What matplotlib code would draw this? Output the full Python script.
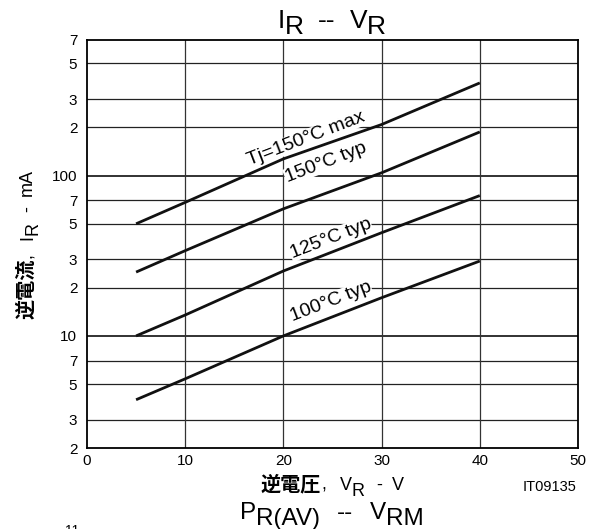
import numpy as np
import matplotlib
matplotlib.use("Agg")
import matplotlib.pyplot as plt
import matplotlib.transforms as mtransforms
from matplotlib.ticker import FixedLocator, FixedFormatter, NullLocator

plt.rcParams['font.family'] = ['Liberation Sans', 'Noto Sans CJK JP', 'DejaVu Sans']

# data (V_R in V, I_R in mA)
vr = [5, 10, 20, 30, 40]
ir_150max = [50, 68, 127, 208, 378]
ir_150typ = [25, 34, 62, 104, 187]
ir_125typ = [10, 13.5, 25.4, 44, 75]
ir_100typ = [4, 5.4, 10, 17.3, 29.3]

curve_labels = ["Tj=150°C max", "150°C typ", "125°C typ", "100°C typ"]
label_x = [22.3, 24.3, 24.8, 24.8]
label_y = [170, 120, 40.5, 16.3]
label_rot = [21, 21, 21, 21]

y_ticks = [2, 3, 5, 7, 10, 20, 30, 50, 70, 100, 200, 300, 500, 700]
y_ticklabels = ['2', '3', '5', '7', '10', '2', '3', '5', '7', '100', '2', '3', '5', '7']
x_ticks = [0, 10, 20, 30, 40, 50]


def rich(fig, x, y, parts, rotation=0):
    # parts: (text, size, weight, dy in pt, gap in pt before)
    r = fig.canvas.get_renderer()
    items = []
    total = 0
    for s, size, weight, dy, gap in parts:
        t = fig.text(0, 0, s, fontsize=size, fontweight=weight)
        w = t.get_window_extent(r).width * 72 / fig.dpi
        items.append((t, w, dy, gap))
        total += w + gap
    a = np.radians(rotation)
    ux, uy = np.cos(a), np.sin(a)
    pos = -total / 2
    for t, w, dy, gap in items:
        pos += gap
        ox = pos * ux - dy * uy
        oy = pos * uy + dy * ux
        t.set_transform(fig.transFigure + mtransforms.ScaledTranslation(ox / 72, oy / 72, fig.dpi_scale_trans))
        t.set_position((x, y))
        t.set_rotation(rotation)
        t.set_rotation_mode('anchor')
        t.set_ha('left')
        t.set_va('baseline')
        pos += w


fig = plt.figure(figsize=(5.97, 5.29), dpi=100)
ax = fig.add_axes([0.1457, 0.1531, 0.8225, 0.7713])

ax.set_yscale('log')
ax.set_xlim(0, 50)
ax.set_ylim(2, 700)

for yv in y_ticks[1:-1]:
    lw = 1.3 if yv in (10, 100) else 0.9
    ax.axhline(yv, color='#222222', lw=lw, zorder=1)
for xv in x_ticks[1:-1]:
    ax.axvline(xv, color='#333333', lw=0.9, zorder=1)

for ys in [ir_150max, ir_150typ, ir_125typ, ir_100typ]:
    ax.plot(vr, ys, color='#111111', lw=2.0, zorder=5, solid_capstyle='butt')

for s, lx, ly, rot in zip(curve_labels, label_x, label_y, label_rot):
    ax.text(lx, ly, s, fontsize=14, rotation=rot, rotation_mode='anchor',
            ha='center', va='center', zorder=4,
            bbox=dict(fc='white', ec='none', pad=0.3))

ax.yaxis.set_major_locator(FixedLocator(y_ticks))
ax.yaxis.set_major_formatter(FixedFormatter(y_ticklabels))
ax.yaxis.set_minor_locator(NullLocator())
ax.set_xticks(x_ticks)
ax.tick_params(length=0, labelsize=11)
ax.tick_params(axis='y', pad=7)
ax.tick_params(axis='x', pad=4)
for sp in ax.spines.values():
    sp.set_linewidth(1.3)

# titles and axis labels
rich(fig, 332 / 597, 1 - 28 / 529, [("I", 19, 'normal', 0, 0), ("R", 19, 'normal', -4, 0),
                                    ("--", 19, 'normal', 0, 10), ("V", 19, 'normal', 0, 10),
                                    ("R", 19, 'normal', -4, 0)])
rich(fig, 332 / 597, 1 - 490 / 529, [("逆電圧", 14.5, 'bold', 0, 0), (",", 13, 'normal', 0, 0),
                                     ("V", 13, 'normal', 0, 10), ("R", 13, 'normal', -4, 0),
                                     ("-", 13, 'normal', 0, 8), ("V", 13, 'normal', 0, 7)])
rich(fig, 332 / 597, 1 - 519 / 529, [("P", 17.5, 'normal', 0, 0), ("R(AV)", 17.5, 'normal', -4, 0),
                                     ("--", 17.5, 'normal', 0, 12), ("V", 17.5, 'normal', 0, 12),
                                     ("RM", 17.5, 'normal', -4, 0)])
rich(fig, 32 / 597, 1 - 244 / 529, [("逆電流", 14.5, 'bold', 0, 0), (",", 13, 'normal', 0, 0),
                                    ("I", 13, 'normal', 0, 10), ("R", 13, 'normal', -4, 0),
                                    ("-", 13, 'normal', 0, 7), ("mA", 13, 'normal', 0, 7)],
     rotation=90)
fig.text(550 / 597, 1 - 487 / 529, "IT09135", fontsize=10.5, ha='center', va='center')
fig.text(72 / 597, 1 - 524 / 529, "11", fontsize=10, ha='center', va='top')

fig.savefig("out.png", dpi=100)
